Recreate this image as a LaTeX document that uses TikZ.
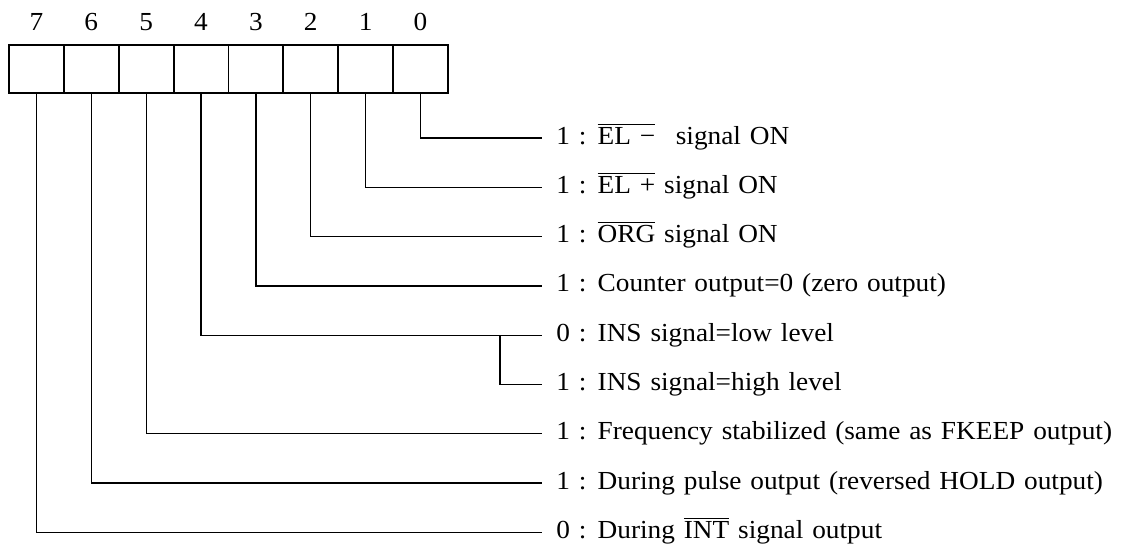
\documentclass[tikz,border=0pt]{standalone}
\usepackage{fontspec}
\setmainfont{Liberation Serif}[FakeStretch=1.05, WordSpace=1.3]
\newcommand{\ovl}[1]{$\overline{\mbox{#1}}$}
\begin{document}
\begin{tikzpicture}[x=0.5pt, y=-0.5pt, every node/.style={font=\fontsize{13}{15}\selectfont},
  bitcell/.style={draw, line width=0.9pt, minimum width=27.44pt, minimum height=24pt, inner sep=0pt},
  bitnum/.style={inner sep=0pt},
  desc/.style={anchor=west, inner xsep=7pt, inner ysep=0pt, text height=0.75em, text depth=0.15em},
  lead/.style={line width=0.65pt}]
  \useasboundingbox (0,0) rectangle (1138,548);
  % register cells and bit numbers
  \foreach \b in {0,...,7} {
    \node[bitcell] (b\b) at ({9+54.875*(7-\b)+27.44}, 69) {};
    \node[bitnum] (n\b) at ({9+54.875*(7-\b)+27.44}, 22) {\b};
  }
  % bit meanings
  \node[desc] (d0) at (542,138) {1 : \ovl{EL −}\hspace{0.45em} signal ON};
  \node[desc] (d1) at (542,187.3) {1 : \ovl{EL +} signal ON};
  \node[desc] (d2) at (542,236.6) {1 : \ovl{ORG} signal ON};
  \node[desc] (d3) at (542,285.9) {1 : Counter output=0 (zero output)};
  \node[desc] (d4) at (542,335.2) {0 : INS signal=low level};
  \node[desc] (d5) at (542,384.5) {1 : INS signal=high level};
  \node[desc] (d6) at (542,433.8) {1 : Frequency stabilized (same as FKEEP output)};
  \node[desc] (d7) at (542,483.1) {1 : During pulse output (reversed HOLD output)};
  \node[desc] (d8) at (542,532.4) {0 : During \ovl{INT} signal output};
  % leads
  \foreach \b/\r in {0/0,1/1,2/2,3/3,4/4,5/6,6/7,7/8}
    \draw[lead] (b\b.south) |- (d\r.west);
  \coordinate (fork) at (500,335.2);
  \draw[lead] (fork) |- (d5.west);
\end{tikzpicture}
\end{document}
